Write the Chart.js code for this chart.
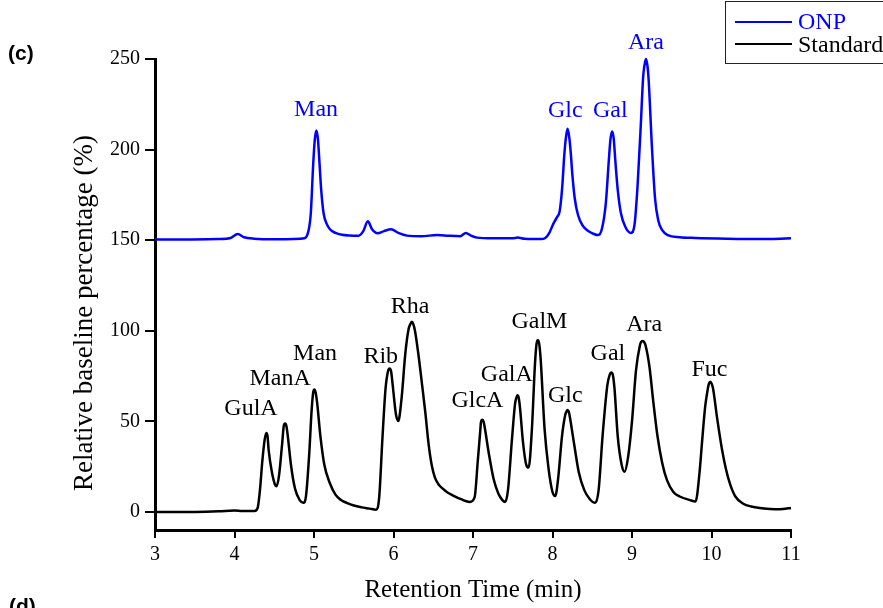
<!DOCTYPE html>
<html>
<head>
<meta charset="utf-8">
<script src="https://cdn.jsdelivr.net/npm/chart.js@4/dist/chart.umd.min.js"></script>
<style>
  html, body { margin: 0; padding: 0; background: #fff; }
  #c { display: block; }
</style>
</head>
<body>
<canvas id="c" width="883" height="608"></canvas>
<script>
// ---- data ----
const xTicks = [3, 4, 5, 6, 7, 8, 9, 10, 11];
const yTicks = [0, 50, 100, 150, 200, 250];

const onpTime = [3.0,3.4,3.8,3.95,4.04,4.12,4.25,4.5,4.75,4.88,4.93,4.96,4.99,5.01,5.03,5.05,5.07,5.09,5.12,5.16,5.2,5.27,5.35,5.45,5.56,5.62,5.677,5.73,5.8,5.88,5.97,6.06,6.17,6.35,6.55,6.7,6.84,6.91,6.97,7.05,7.25,7.5,7.56,7.65,7.85,7.91,7.96,8.01,8.055,8.09,8.12,8.15,8.17,8.189,8.21,8.23,8.25,8.28,8.32,8.38,8.45,8.52,8.575,8.62,8.67,8.71,8.73,8.751,8.77,8.79,8.82,8.86,8.92,8.987,9.03,9.07,9.11,9.14,9.155,9.175,9.195,9.21,9.25,9.29,9.33,9.38,9.45,9.6,9.8,10.2,10.6,11.0];
const onpValue = [150.3,150.4,150.6,151.2,153.4,151.6,150.8,150.5,150.6,151,155,165,192,205.5,210.5,205.5,192,178,165,159,156,154,153,152.6,152.5,155,160.4,156,153.8,155,156,154,152.5,152.2,152.8,152.4,152.2,154,152.6,151.4,151,151,151.4,150.8,150.6,151.2,154,159,162.6,166,178,198,207,211.5,207,198,186,173,164,158,155,153.4,152.8,156,170,195,206,210,206,194,178,165,157,154,158,180,213,240,246,250,246,238,202,173,161,155.5,152.8,151.6,151.2,150.8,150.6,151];

const stdTime = [3.0,3.5,3.8,4.0,4.1,4.25,4.29,4.32,4.35,4.38,4.40,4.415,4.43,4.47,4.51,4.53,4.56,4.60,4.62,4.636,4.652,4.67,4.71,4.76,4.82,4.866,4.9,4.94,4.97,4.99,5.005,5.02,5.04,5.08,5.13,5.2,5.27,5.34,5.41,5.5,5.6,5.7,5.78,5.82,5.86,5.9,5.93,5.95,5.97,5.99,6.03,6.06,6.1,6.15,6.19,6.21,6.23,6.25,6.27,6.31,6.36,6.40,6.44,6.48,6.52,6.57,6.62,6.67,6.75,6.85,6.96,7.02,7.06,7.09,7.10,7.118,7.135,7.15,7.2,7.26,7.32,7.37,7.405,7.44,7.49,7.53,7.545,7.56,7.575,7.59,7.63,7.67,7.70,7.74,7.78,7.80,7.816,7.832,7.85,7.9,7.95,8.0,8.034,8.07,8.12,8.16,8.175,8.189,8.205,8.22,8.27,8.33,8.4,8.47,8.537,8.58,8.63,8.69,8.72,8.739,8.758,8.78,8.82,8.87,8.906,8.95,9.0,9.05,9.1,9.115,9.133,9.152,9.17,9.22,9.27,9.32,9.38,9.44,9.52,9.6,9.73,9.8,9.85,9.88,9.92,9.95,9.968,9.985,10.002,10.02,10.07,10.13,10.18,10.236,10.3,10.4,10.5,10.66,10.8,10.9,11.0];
const stdValue = [0,0,0.3,0.8,0.5,0.5,2,12,28,40,43.6,42,34,22,15,14.2,20,38,47.5,48.8,47.5,42,26,13,6.5,5,9,32,56,66,67.6,66,60,42,26,15.8,9.5,6.5,5,3.5,2.5,1.8,1.2,8,40,68,77.5,79.2,77.5,70,54,50.2,62,88,101,103.5,104.9,103.5,100,88,70,55,38,26,19,15,12.8,11,9,7,5.5,8,28,44,49.5,50.8,49.5,46,32,18,10,6.5,5.5,12,40,60,63,64.4,63,58,38,26,24.5,45,82,93,94.8,93,85,46,24,11,8.7,18,42,53.5,55.3,56.2,55.3,52,38,22,12,7,5,12,42,70,75.8,77,75.8,68,42,26,22.1,30,50,78,92,93.8,94.3,93.8,92,80,60,42,27,17.5,11,8.5,6.5,5.8,22,38,58,67,70.8,71.8,70.8,68,52,35,24,15,8.5,4.5,3,1.9,1.5,1.6,2.2];

const onpLabels = ['Man', 'Glc', 'Gal', 'Ara'];
const onpLabelT = [5.026, 8.16, 8.726, 9.175];
const onpLabelV = [222.2, 221.4, 221.4, 259];

const stdLabels = ['GulA', 'ManA', 'Man', 'Rib', 'Rha', 'GlcA', 'GalA', 'GalM', 'Glc', 'Gal', 'Ara', 'Fuc'];
const stdLabelT = [4.208, 4.573, 5.014, 5.84, 6.21, 7.056, 7.426, 7.836, 8.16, 8.697, 9.154, 9.975];
const stdLabelV = [57.1, 73.3, 87.1, 85.6, 113.2, 61.3, 75.5, 104.9, 64.4, 87.1, 103.1, 78.6];

const seriesNames = ['ONP', 'Standard'];
const xTitle = 'Retention Time (min)';
const yTitle = 'Relative baseline percentage (%)';

// ---- styles ----
const BLUE = '#0000ff';
const BLACK = '#000000';
const SERIF = '"Liberation Serif", "Times New Roman", serif';

const textPlugin = {
  id: 'texts',
  afterDraw(chart) {
    const ctx = chart.ctx;
    const xs = chart.scales.x, ys = chart.scales.y;
    const ca = chart.chartArea;
    ctx.save();
    ctx.textAlign = 'center';
    ctx.textBaseline = 'middle';
    ctx.font = '24px ' + SERIF;
    ctx.fillStyle = BLUE;
    onpLabels.forEach((t, i) => ctx.fillText(t, xs.getPixelForValue(onpLabelT[i]), ys.getPixelForValue(onpLabelV[i])));
    ctx.fillStyle = BLACK;
    stdLabels.forEach((t, i) => ctx.fillText(t, xs.getPixelForValue(stdLabelT[i]), ys.getPixelForValue(stdLabelV[i])));

    // axis titles
    ctx.font = '25px ' + SERIF;
    ctx.fillText(xTitle, (ca.left + ca.right) / 2, 590);
    ctx.save();
    ctx.translate(85, 313);
    ctx.rotate(-Math.PI / 2);
    ctx.font = '27px ' + SERIF;
    ctx.fillText(yTitle, 0, 0);
    ctx.restore();

    // panel letters
    ctx.font = 'bold 21px "Liberation Sans", Arial, sans-serif';
    ctx.textAlign = 'left';
    ctx.fillText('(c)', 8, 54);
    ctx.fillText('(d)', 9, 607);

    // legend
    ctx.strokeStyle = '#222';
    ctx.lineWidth = 1;
    ctx.strokeRect(725.5, 1.5, 170, 62);
    const cols = [BLUE, BLACK];
    const ly = [22, 44];
    const ty = [22.5, 46];
    ctx.font = '24px ' + SERIF;
    for (let i = 0; i < seriesNames.length; i++) {
      ctx.strokeStyle = cols[i];
      ctx.lineWidth = 2;
      ctx.beginPath();
      ctx.moveTo(735, ly[i]);
      ctx.lineTo(792, ly[i]);
      ctx.stroke();
      ctx.fillStyle = cols[i];
      ctx.fillText(seriesNames[i], 798, ty[i]);
    }
    ctx.restore();
  }
};

const axisGrid = { drawOnChartArea: false, drawTicks: true, color: BLACK, lineWidth: 2 };
const axisBorder = { display: true, color: BLACK, width: 3 };

new Chart(document.getElementById('c'), {
  type: 'line',
  data: {
    datasets: [
      {
        label: seriesNames[0],
        data: onpTime.map((t, i) => ({ x: t, y: onpValue[i] })),
        borderColor: BLUE, borderWidth: 2.5, pointRadius: 0,
        cubicInterpolationMode: 'monotone', fill: false, clip: false
      },
      {
        label: seriesNames[1],
        data: stdTime.map((t, i) => ({ x: t, y: stdValue[i] })),
        borderColor: BLACK, borderWidth: 2.5, pointRadius: 0,
        cubicInterpolationMode: 'monotone', fill: false, clip: false
      }
    ]
  },
  options: {
    animation: false,
    responsive: false,
    devicePixelRatio: 1,
    layout: { padding: { left: 0, right: 92, top: 59, bottom: 0 } },
    plugins: { legend: { display: false }, tooltip: { enabled: false } },
    scales: {
      x: {
        type: 'linear', min: 3, max: 11,
        afterBuildTicks: s => { s.ticks = xTicks.map(v => ({ value: v })); },
        afterFit: s => { s.height = 78; },
        ticks: { font: { family: SERIF, size: 20 }, color: BLACK, padding: 5, maxRotation: 0, autoSkip: false },
        grid: Object.assign({}, axisGrid, { tickLength: 8 }),
        border: axisBorder
      },
      y: {
        type: 'linear', min: -10, max: 250,
        afterBuildTicks: s => { s.ticks = yTicks.map(v => ({ value: v })); },
        afterFit: s => { s.width = 155; },
        ticks: { font: { family: SERIF, size: 20 }, color: BLACK, padding: 5, autoSkip: false },
        grid: Object.assign({}, axisGrid, { tickLength: 10 }),
        border: axisBorder
      }
    }
  },
  plugins: [textPlugin]
});
</script>
</body>
</html>
